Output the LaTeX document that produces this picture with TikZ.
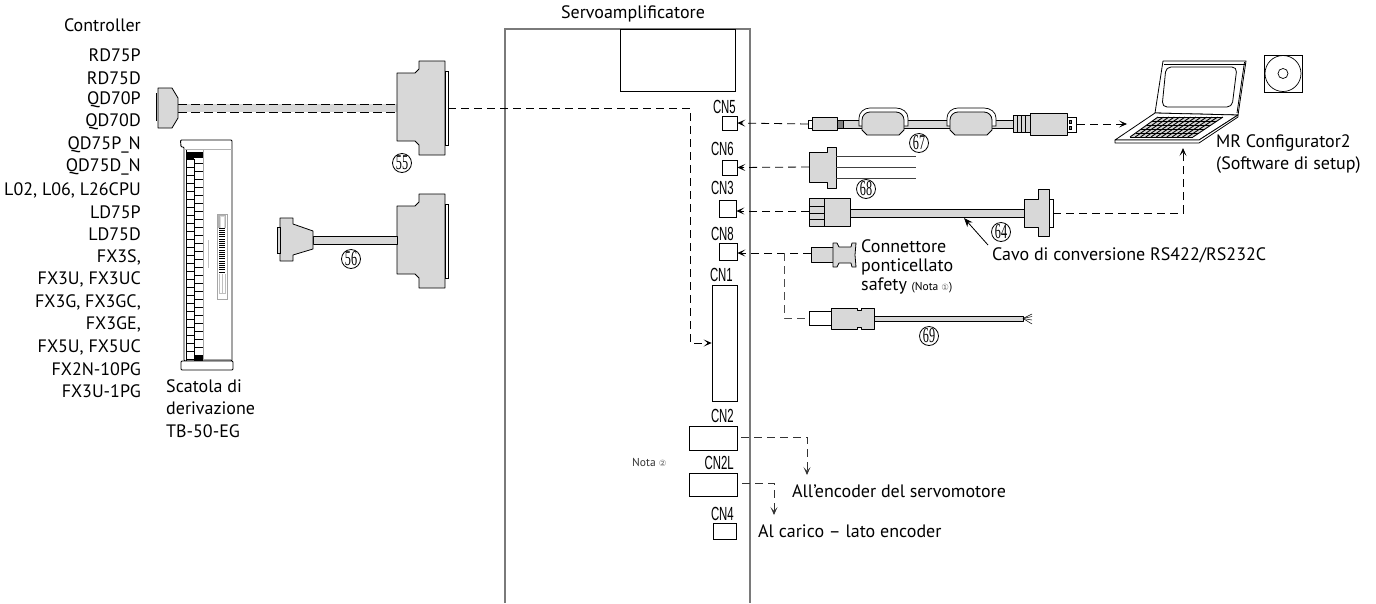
\documentclass[tikz,border=0pt]{standalone}
\usepackage{fontspec}
\usepackage{graphicx}
\setmainfont{PT Sans}
\newfontfamily\numfont{Liberation Serif}
\newfontfamily\cnfont{Liberation Sans}
\newfontfamily\symfont{DejaVu Sans}
\usetikzlibrary{arrows.meta,calc}
\definecolor{partgray}{HTML}{D8D8D8}
\definecolor{wallgray}{HTML}{7A7A7A}
\newcommand{\cnname}[1]{\scalebox{.6}[1]{\cnfont #1}}
\newcommand{\partnum}[1]{\scalebox{.58}[1]{\numfont #1}}
\newcommand{\circnote}[1]{{\color{black!60}\symfont\fontsize{8.5}{8.5}\selectfont #1}}
\begin{document}
\begin{tikzpicture}[
x=1pt,y=-1pt,
txt/.style={font=\fontsize{18}{22}\selectfont,inner sep=0pt,align=left},
ctrl/.style={font=\fontsize{18}{22}\selectfont,inner sep=0pt,anchor=east},
cnlabel/.style={font=\fontsize{19}{19}\selectfont,inner sep=0pt,anchor=east},
partno/.style={circle,draw,line width=.8pt,inner sep=0pt,minimum size=19pt,font=\fontsize{21}{21}\selectfont},
port/.style={rectangle,draw,line width=.7pt,inner sep=0pt},
part/.style={draw,line width=.8pt,fill=partgray,line join=round},
link/.style={dashed,dash pattern=on 8pt off 5pt,line width=.8pt},
linkto/.style={link,-{Stealth[length=8pt,width=7pt,inset=4pt,sep=0pt]}}
]

\useasboundingbox (0,0) rectangle (1376,603);

% =======================
% CONTROLLER LIST
% =======================

\node[ctrl] (ctrlhead) at (141,25) {Controller};
\foreach \name/\ypos in {RD75P/55,RD75D/78,QD70P/100,QD70D/122,QD75P\_N/145,QD75D\_N/167,
{L02, L06, L26CPU}/190,LD75P/212,LD75D/234,{FX3S,}/257,{FX3U, FX3UC}/279,{FX3G, FX3GC,}/302,
{FX3GE,}/324,{FX5U, FX5UC}/347,FX2N-10PG/369,FX3U-1PG/391}
  \node[ctrl] at (141,\ypos) {\name};

% =======================
% SERVO AMPLIFIER
% =======================

\draw[wallgray,line width=1.3pt] (505,603) -- (505,29) -- (750,29) -- (750,603);
\node[txt] (servotitle) at (633,14) {Servoamplificatore};
\node[port,minimum width=115pt,minimum height=62pt] (topbox) at (677.5,60) {};

\node[port,minimum width=15pt,minimum height=14pt] (cn5) at (729.5,123) {};
\node[port,minimum width=15pt,minimum height=15pt] (cn6) at (729.5,167.5) {};
\node[port,minimum width=17pt,minimum height=17pt] (cn3) at (727.5,208.5) {};
\node[port,minimum width=18pt,minimum height=17pt] (cn8) at (728,251.5) {};
\node[port,minimum width=25pt,minimum height=116pt] (cn1) at (724.5,343) {};
\node[port,minimum width=48pt,minimum height=24pt] (cn2) at (713,438) {};
\node[port,minimum width=48pt,minimum height=23pt] (cn2l) at (713,484.5) {};
\node[port,minimum width=23pt,minimum height=16pt] (cn4) at (724.5,531) {};

\node[cnlabel] at (736,107) {\cnname{CN5}};
\node[cnlabel] at (734,149) {\cnname{CN6}};
\node[cnlabel] at (734,188) {\cnname{CN3}};
\node[cnlabel] at (734,234) {\cnname{CN8}};
\node[cnlabel] at (733,275) {\cnname{CN1}};
\node[cnlabel] at (734,416) {\cnname{CN2}};
\node[cnlabel] at (734,463) {\cnname{CN2L}};
\node[cnlabel] at (734,514) {\cnname{CN4}};
\node[anchor=west,inner sep=0pt,font=\fontsize{11.5}{11.5}\selectfont,text=black!80] (nota2) at (632,462) {Nota \circnote{②}};

% =======================
% CABLE 55 AND 56
% =======================

\fill[partgray] (178,104) rectangle (397,112);
\draw[dashed,dash pattern=on 9pt off 4pt,line width=.7pt] (178,104) -- (397,104) (178,112) -- (397,112);
\draw[part] (158,88) -- (172,88) -- (178,98) -- (178,118) -- (172,128) -- (158,128) -- cycle;
\draw[line width=.8pt] (156.5,93) -- (156.5,121);

\foreach \dy in {0,133}{
  \draw[part,shift={(0,\dy)}] (397,73) -- (415,73) -- (419,69) -- (419,61) -- (445,61) -- (445,155) -- (419,155)
    -- (419,145) -- (415,141) -- (397,141) -- cycle;
  \draw[line width=.8pt,fill=white,shift={(0,\dy)}] (445,71) rectangle (448,145);
}
\coordinate (plug55) at (448,108);

\draw[part] (313,236) rectangle (397,244);
\draw[part] (280,218) -- (293,218) -- (293,224) -- (313,231) -- (313,249) -- (293,255) -- (293,261) -- (280,261) -- cycle;
\draw[line width=.8pt,fill=partgray] (277,227) rectangle (280,253);

\node[partno] (no55) at (402,163) {\partnum{55}};
\node[partno] (no56) at (351,259) {\partnum{56}};

% =======================
% TERMINAL BLOCK
% =======================

\draw[line width=.9pt,rounded corners=1pt] (184,147) -- (181,147) -- (180.5,140) -- (232,140) -- (232,361) -- (184,361) -- cycle;
\draw[gray!60,line width=.8pt] (184,149) -- (232,149);
\draw[line width=.6pt] (186,150) -- (186,361) (194,159) -- (194,361);
\draw[gray!70,line width=.7pt] (203.5,150) -- (203.5,359) -- (231,359);
\fill (186,152) rectangle (203,158);
\fill (186,158) rectangle (194,159.5);
\fill (194,356) rectangle (203,360.5);
\foreach \ypos in {159,167,...,359}
  \draw[line width=.6pt] (186,\ypos) -- (194,\ypos);
\foreach \ypos in {163,171,...,355}
  \draw[line width=.6pt] (194,\ypos) -- (203,\ypos);
\draw[gray!50,line width=1pt] (208,240) -- (208,268);
\draw[gray!70,line width=.6pt] (217,214) rectangle (227,299);
\fill[gray!60] (218,215) rectangle (226,228);
\draw[gray!30,fill=white,line width=.4pt] (220,216) rectangle (224,228);
\foreach \ypos in {228,230.2,...,273}
  \draw[line width=1pt] (219,\ypos) -- (225,\ypos);
\draw[gray!50,line width=.6pt] (219,274) -- (219,293) -- (225,293) -- (225,274) (222,274) -- (222,293);
\draw[line width=.9pt,fill=white,rounded corners=1pt] (181,361) rectangle (233,370);
\node[txt,anchor=north west,font=\fontsize{18}{22.5}\selectfont] (tblabel) at (166,379) {Scatola di\\derivazione\\TB-50-EG};

% =======================
% USB CABLE 67
% =======================

\draw[part,line width=.7pt] (843,120) rectangle (1013,128);
\draw[line width=.7pt,fill=white] (808,120) rectangle (812,128);
\draw[part] (812,117) rectangle (837,130);
\draw[line width=.7pt,fill=gray] (837,120) rectangle (843,128);
\foreach \xpos in {862,950}{
  \draw[line width=.7pt,fill=white,shift={(\xpos,0)}] (-3,126) -- (-3,118) to[out=90,in=180] (8,108) -- (34,108) to[out=0,in=90] (46,118) -- (46,126) -- cycle;
  \draw[part,shift={(\xpos,0)}] (0,130) -- (0,122) -- (0,120) to[out=90,in=180] (8,112) -- (34,112) to[out=0,in=90] (42,120) -- (42,130) -- (37,135) -- (5,135) -- cycle;
}
\draw[part] (1013,115) rectangle (1030,132);
\foreach \xpos in {1017,1021,1025}
  \draw[line width=.7pt] (\xpos,115) -- (\xpos,132);
\draw[line width=.7pt,fill=white] (1067,117) rectangle (1076,132);
\draw[line width=.7pt,fill=gray] (1069,120) rectangle (1071,123) (1069,126) rectangle (1071,129);
\draw[part] (1030,113) rectangle (1067,135);
\coordinate (plug67) at (808,124);
\coordinate (usbend) at (1077,124);
\node[partno] (no67) at (919,143) {\partnum{67}};

% =======================
% CONNECTOR 68
% =======================

\draw[part] (809,152) -- (827,152) -- (827,147) -- (836,147) -- (836,188) -- (827,188) -- (827,182) -- (809,182) -- cycle;
\foreach \ypos in {156,167,178}
  \draw[black!75,line width=.8pt] (836,\ypos) -- (916,\ypos);
\coordinate (plug68) at (809,167);
\node[partno] (no68) at (866,189) {\partnum{68}};

% =======================
% CONVERSION CABLE 64
% =======================

\draw[part] (850,209) rectangle (1024,217);
\draw[part] (809,198) rectangle (850,226);
\draw[line width=.8pt] (824,198) -- (824,226) (809,206) -- (824,206) (809,213) -- (824,213) (809,219) -- (824,219);
\draw[line width=.8pt,fill=white] (1049,199) rectangle (1053,227);
\draw[part] (1024,199) -- (1038,199) -- (1038,189) -- (1049,189) -- (1049,236) -- (1038,236) -- (1038,227) -- (1024,227) -- cycle;
\coordinate (plug64) at (809,211);
\coordinate (rsend) at (1053,213);
\coordinate (cabletip) at (964,218);
\node[partno] (no64) at (1001,232) {\partnum{64}};
\node[txt,anchor=west] (rslabel) at (992,255) {Cavo di conversione RS422/RS232C};
\draw[-{Stealth[length=9pt,width=7pt,inset=3pt]},line width=.8pt] (988,245) -- (cabletip);

% =======================
% SAFETY CONNECTOR AND CABLE 69
% =======================

\draw[part] (811,247) rectangle (833,262);
\draw[part] (833,243) -- (837,243) -- (839,247) -- (851,247) -- (852,243) -- (856,243) -- (855,255) -- (856,267)
  -- (852,267) -- (851,263) -- (839,263) -- (837,267) -- (833,267) -- cycle;
\coordinate (plug8) at (811,253);
\node[txt,anchor=north west,font=\fontsize{18}{19}\selectfont] (safetylabel) at (861,239) {Connettore\\ponticellato\\safety {\fontsize{11.5}{11.5}\selectfont (Nota \circnote{①})}};

\draw[part] (874,316) rectangle (1023,321);
\draw[line width=.8pt,fill=white] (809,311) rectangle (831,325);
\draw[part] (831,308) -- (857,308) -- (857,310) -- (861,310) -- (861,308) -- (874,308) -- (874,329) -- (861,329) -- (861,327) -- (857,327) -- (857,329) -- (831,329) -- cycle;
\foreach \yend in {314,316.5,320,324}
  \draw[line width=.5pt] (1023,318.5) -- (1032,\yend);
\coordinate (plug69) at (809,318);
\coordinate (branch8) at (784,253);
\node[partno] (no69) at (929,336) {\partnum{69}};

% =======================
% LAPTOP AND CD
% =======================

\draw[line width=.8pt,fill=white,line join=round] (1155,113) -- (1163,61) -- (1246,61) -- (1238,115) -- cycle;
\draw[line width=.8pt] (1164,64) -- (1245,64);
\draw[line width=.8pt] (1244.5,62) -- (1237,113);
\draw[line width=.8pt,rounded corners=5pt] (1166,67) -- (1237,67) -- (1232,107) -- (1162,107) -- cycle;
\draw[line width=.8pt,fill=white,line join=round] (1155,113) -- (1238,115) -- (1199,140) -- (1115,140) -- cycle;
\draw[line width=.8pt,fill=white,line join=round] (1115,140) -- (1199,140) -- (1238,115) -- (1238,117) -- (1199,143) -- (1115,143) -- cycle;
\coordinate (kbA) at (1158,117);
\coordinate (kbB) at (1223,117);
\coordinate (kbC) at (1193,137);
\coordinate (kbD) at (1130,137);
\fill[gray!35] (kbA) -- (kbB) -- (kbC) -- (kbD) -- cycle;
\foreach \t in {0,.2,...,1.01}
  \draw[line width=.9pt] ($(kbA)!\t!(kbD)$) -- ($(kbB)!\t!(kbC)$);
\foreach \t in {0,.0833,...,1.01}
  \draw[line width=.9pt] ($(kbA)!\t!(kbB)$) -- ($(kbD)!\t!(kbC)$);
\coordinate (laptopin) at (1127,124);
\coordinate (laptopup) at (1183,148);
\node[txt,anchor=north west] (mrlabel) at (1216,134) {MR Configurator2\\(Software di setup)};

\node[port,minimum width=38pt,minimum height=37pt] (cdbox) at (1283,73.5) {};
\draw[line width=.7pt] (cdbox.center) circle (18pt) circle (5pt);

% =======================
% DASHED LINKS
% =======================

\draw[linkto] (plug67) -- (cn5.east);
\draw[linkto] (plug68) -- (cn6.east);
\draw[linkto] (plug64) -- (cn3.east |- plug64);
\draw[linkto] (plug8) -- (cn8.east |- plug8);
\draw[link,black!70] (branch8) -- (784,318) -- (plug69);
\draw[linkto] (usbend) -- (laptopin);
\draw[linkto] (rsend) -| (laptopup);
\draw[linkto] (plug55) -- (690,108) -- (690,343) -- (cn1.west |- 0,343);

\coordinate (enc) at (807,475);
\coordinate (load) at (774,515);
\draw[linkto,black!80] (741,437) -| (enc);
\draw[linkto,black!80] (742,483) -| (load);
\node[txt,anchor=west] (enclabel) at (792,491) {All’encoder del servomotore};
\node[txt,anchor=west] (loadlabel) at (758,531) {Al carico – lato encoder};

\end{tikzpicture}
\end{document}
